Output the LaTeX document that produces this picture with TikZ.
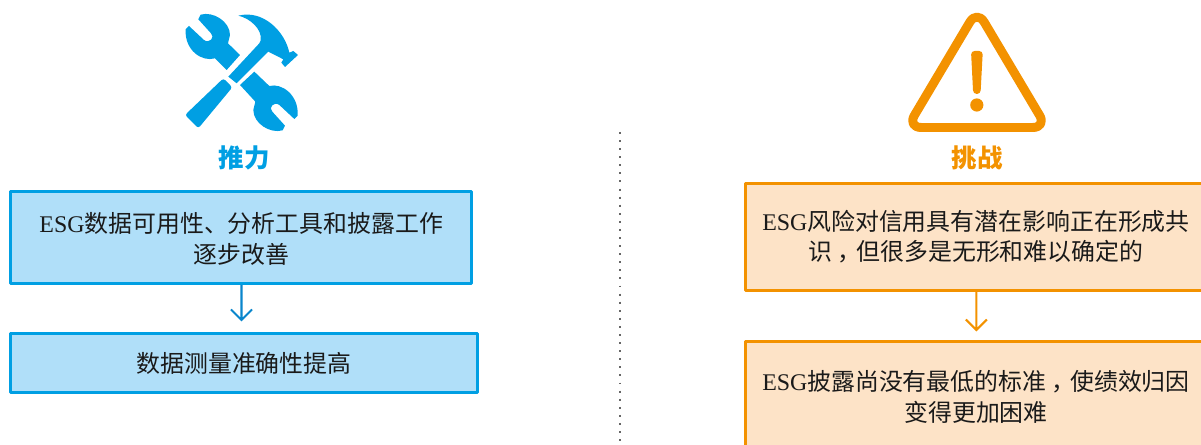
\documentclass[tikz,border=0pt]{standalone}
\usepackage{fontspec}
\usepackage{xcolor}
\usepackage{tikz}
\setmainfont{Liberation Serif}
\newfontfamily\cjk{Noto Sans CJK SC}
\definecolor{pushblue}{HTML}{009FE3}
\definecolor{pushfill}{HTML}{B0DFF9}
\definecolor{pusharrow}{HTML}{0A86CC}
\definecolor{riskorange}{HTML}{F39200}
\definecolor{riskfill}{HTML}{FDE3C7}
\definecolor{inktext}{HTML}{1A1A1A}
\newcommand{\midcomma}{\kern.22em，\kern-.22em}
\tikzset{
  boxtext/.style={align=center,inner sep=0pt,text=inktext,font=\fontsize{13.6pt}{17.2pt}\selectfont},
  pushbox/.style={boxtext,draw=pushblue,fill=pushfill,line width=1.7pt},
  riskbox/.style={boxtext,draw=riskorange,fill=riskfill,line width=1.7pt},
  pushlink/.style={draw=pusharrow,line width=1.2pt,line cap=butt,line join=miter},
  risklink/.style={draw=riskorange,line width=1.2pt,line cap=butt,line join=miter},
  headtext/.style={inner sep=0pt,font=\fontsize{14.5pt}{17pt}\selectfont\cjk\bfseries}
}
\begin{document}
\begin{tikzpicture}[line cap=round,line join=round,x=0.02cm,y=-0.02cm]
            \useasboundingbox (0,0) rectangle (1201,445);
            \clip (0,0) rectangle (1201,445);
            % middle divider
            \draw [line width=1.1pt,color=black!60,line cap=butt,dash pattern=on 1.1pt off 3.5pt] (620,132) -- (620,445);
            % tools
            \begin{scope}[shift={(170,0)},x=0.02/3*1cm,y=-0.02/3*1cm]
            \fill [pushblue] (92,44) .. controls (130,33) and (180,65) .. (180,105) -- (174,130) -- (210,165) -- (170,210) -- (135,175) .. controls (95,187) and (43,150) .. (47,88) -- (57,78) -- (102,120) .. controls (118,132) and (136,112) .. (123,100) -- (85,58) -- cycle;
            \fill [pushblue] (338,391) .. controls (300,402) and (250,370) .. (250,330) -- (256,305) -- (210,255) -- (253,215) -- (298,258) .. controls (335,248) and (387,285) .. (383,347) -- (373,357) -- (328,315) .. controls (312,303) and (294,323) .. (307,335) -- (345,377) -- cycle;
            \fill [pushblue,rounded corners=1.5pt] (45,345) -- (160,235) -- (187,262) -- (85,385) -- cycle;
            \fill [pushblue] (175,230) -- (268,130) -- (272,122) .. controls (278,88) and (240,55) .. (205,47) .. controls (280,28) and (345,95) .. (358,158) -- (370,153) -- (384,165) -- (345,201) -- (334,188) -- (340,178) -- (295,155) -- (200,250) -- cycle;
            \end{scope}
            % warning sign
            \draw [riskorange,line width=5.1pt,rounded corners=8pt] (977,10) -- (1046.8,127.5) -- (907.2,127.5) -- cycle;
            \fill [riskorange,rounded corners=2pt] (971,51) -- (982.8,51) -- (980.5,94) -- (973.2,94) -- cycle;
            \fill [riskorange] (976.8,105) circle (6.6);
            % titles
            \node [headtext,text=pushblue] (pushhead) at (244,158) {推力};
            \node [headtext,text=riskorange] (riskhead) at (977,158) {挑战};
            % left column
            \node [pushbox,minimum width=9.23cm,minimum height=1.84cm] (pushtop) at (241.25,237.5) {\rule{0pt}{13pt}ESG{\cjk 数据可用性、分析工具和披露工作}\\{\cjk 逐步改善}};
            \node [pushbox,minimum width=9.34cm,minimum height=1.18cm] (pushlow) at (244,363) {{\cjk 数据测量准确性提高}};
            \coordinate (pushend) at (241.5,320);
            \draw [pushlink] (pushtop.south -| pushend) -- (pushend) ++(-10.5,-10.5) -- (pushend) -- ++(10.5,-10.5);
            % right column
            \node [riskbox,minimum width=9.23cm,minimum height=2.14cm] (risktop) at (976,237) {ESG{\cjk 风险对信用具有潜在影响正在形成共}\\{\cjk 识\midcomma 但很多是无形和难以确定的}};
            \node [riskbox,minimum width=9.23cm,minimum height=2.22cm] (risklow) at (976,397) {ESG{\cjk 披露尚没有最低的标准\midcomma 使绩效归因}\\{\cjk 变得更加困难}};
            \coordinate (riskend) at (976.3,330);
            \draw [risklink] (risktop.south -| riskend) -- (riskend) ++(-10.5,-10.5) -- (riskend) -- ++(10.5,-10.5);
\end{tikzpicture}
\end{document}
